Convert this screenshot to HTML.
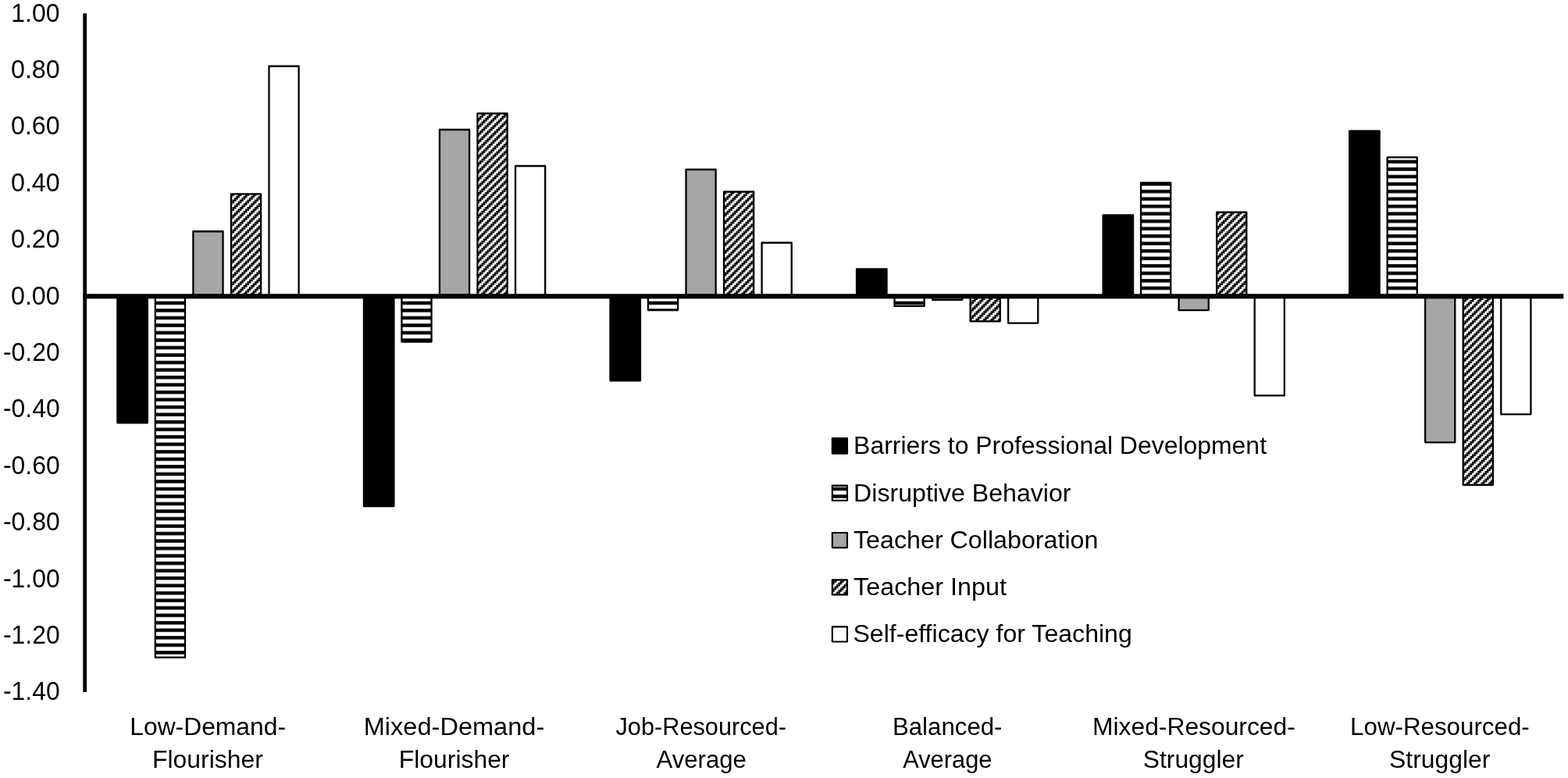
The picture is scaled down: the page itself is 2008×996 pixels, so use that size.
<!DOCTYPE html>
<html lang="en"><head><meta charset="utf-8"><title>Teacher profiles bar chart</title>
<style>html,body{margin:0;padding:0;background:#fff;}body{width:2008px;height:996px;overflow:hidden;}svg{display:block;}text{font-family:"Liberation Sans",sans-serif;fill:#000;}</style>
</head><body>
<svg width="2008" height="996" viewBox="0 0 2008 996">
<defs>
<pattern id="hs" patternUnits="userSpaceOnUse" x="0" y="0" width="9.520" height="9.520"><rect x="0" y="0" width="9.520" height="9.520" fill="#fff"/><rect x="0" y="4.940" width="9.520" height="4.400" fill="#000"/></pattern>
<pattern id="dg" patternUnits="userSpaceOnUse" x="0" y="-1.5" width="9.520" height="9.520"><rect x="0" y="0" width="9.520" height="9.520" fill="#fff"/><g fill="#000"><rect x="-2.440" y="-2.440" width="2.500" height="2.500"/><rect x="4.700" y="-2.440" width="2.500" height="2.500"/><rect x="7.080" y="-2.440" width="2.500" height="2.500"/><rect x="2.320" y="-0.060" width="2.500" height="2.500"/><rect x="4.700" y="-0.060" width="2.500" height="2.500"/><rect x="-0.060" y="2.320" width="2.500" height="2.500"/><rect x="2.320" y="2.320" width="2.500" height="2.500"/><rect x="9.460" y="2.320" width="2.500" height="2.500"/><rect x="-2.440" y="4.700" width="2.500" height="2.500"/><rect x="-0.060" y="4.700" width="2.500" height="2.500"/><rect x="7.080" y="4.700" width="2.500" height="2.500"/><rect x="9.460" y="4.700" width="2.500" height="2.500"/><rect x="-2.440" y="7.080" width="2.500" height="2.500"/><rect x="4.700" y="7.080" width="2.500" height="2.500"/><rect x="7.080" y="7.080" width="2.500" height="2.500"/><rect x="2.320" y="9.460" width="2.500" height="2.500"/><rect x="4.700" y="9.460" width="2.500" height="2.500"/></g></pattern>
</defs>
<rect x="0" y="0" width="2008" height="996" fill="#fff"/>
<rect x="150.41" y="380.30" width="38.45" height="161.00" fill="#000" stroke="#000" stroke-width="2.30" stroke-linejoin="round"/>
<rect x="198.85" y="380.30" width="38.15" height="461.35" fill="url(#hs)" stroke="#000" stroke-width="2.30" stroke-linejoin="round"/>
<rect x="247.40" y="296.25" width="38.15" height="81.75" fill="#a6a6a6" stroke="#000" stroke-width="2.30" stroke-linejoin="round"/>
<rect x="295.94" y="248.30" width="38.15" height="129.70" fill="url(#dg)" stroke="#000" stroke-width="2.30" stroke-linejoin="round"/>
<rect x="344.49" y="84.75" width="38.15" height="293.25" fill="#fff" stroke="#000" stroke-width="2.30" stroke-linejoin="round"/>
<rect x="465.95" y="380.30" width="38.45" height="267.75" fill="#000" stroke="#000" stroke-width="2.30" stroke-linejoin="round"/>
<rect x="514.40" y="380.30" width="38.15" height="57.25" fill="url(#hs)" stroke="#000" stroke-width="2.30" stroke-linejoin="round"/>
<rect x="562.95" y="166.00" width="38.15" height="212.00" fill="#a6a6a6" stroke="#000" stroke-width="2.30" stroke-linejoin="round"/>
<rect x="611.49" y="145.25" width="38.15" height="232.75" fill="url(#dg)" stroke="#000" stroke-width="2.30" stroke-linejoin="round"/>
<rect x="660.04" y="212.50" width="38.15" height="165.50" fill="#fff" stroke="#000" stroke-width="2.30" stroke-linejoin="round"/>
<rect x="781.50" y="380.30" width="38.45" height="107.00" fill="#000" stroke="#000" stroke-width="2.30" stroke-linejoin="round"/>
<rect x="829.95" y="380.30" width="38.15" height="16.75" fill="url(#hs)" stroke="#000" stroke-width="2.30" stroke-linejoin="round"/>
<rect x="878.50" y="217.00" width="38.15" height="161.00" fill="#a6a6a6" stroke="#000" stroke-width="2.30" stroke-linejoin="round"/>
<rect x="927.04" y="245.50" width="38.15" height="132.50" fill="url(#dg)" stroke="#000" stroke-width="2.30" stroke-linejoin="round"/>
<rect x="975.59" y="310.75" width="38.15" height="67.25" fill="#fff" stroke="#000" stroke-width="2.30" stroke-linejoin="round"/>
<rect x="1097.06" y="344.50" width="38.45" height="33.50" fill="#000" stroke="#000" stroke-width="2.30" stroke-linejoin="round"/>
<rect x="1145.50" y="380.30" width="38.15" height="11.50" fill="url(#hs)" stroke="#000" stroke-width="2.30" stroke-linejoin="round"/>
<rect x="1194.05" y="380.30" width="38.15" height="3.50" fill="#a6a6a6" stroke="#000" stroke-width="2.30" stroke-linejoin="round"/>
<rect x="1242.59" y="380.30" width="38.15" height="31.00" fill="url(#dg)" stroke="#000" stroke-width="2.30" stroke-linejoin="round"/>
<rect x="1291.14" y="380.30" width="38.15" height="33.25" fill="#fff" stroke="#000" stroke-width="2.30" stroke-linejoin="round"/>
<rect x="1412.61" y="275.50" width="38.45" height="102.50" fill="#000" stroke="#000" stroke-width="2.30" stroke-linejoin="round"/>
<rect x="1461.05" y="234.00" width="38.15" height="144.00" fill="url(#hs)" stroke="#000" stroke-width="2.30" stroke-linejoin="round"/>
<rect x="1509.60" y="380.30" width="38.15" height="16.75" fill="#a6a6a6" stroke="#000" stroke-width="2.30" stroke-linejoin="round"/>
<rect x="1558.14" y="271.75" width="38.15" height="106.25" fill="url(#dg)" stroke="#000" stroke-width="2.30" stroke-linejoin="round"/>
<rect x="1606.69" y="380.30" width="38.15" height="126.00" fill="#fff" stroke="#000" stroke-width="2.30" stroke-linejoin="round"/>
<rect x="1728.15" y="167.75" width="38.45" height="210.25" fill="#000" stroke="#000" stroke-width="2.30" stroke-linejoin="round"/>
<rect x="1776.60" y="201.40" width="38.15" height="176.60" fill="url(#hs)" stroke="#000" stroke-width="2.30" stroke-linejoin="round"/>
<rect x="1825.15" y="380.30" width="38.15" height="186.00" fill="#a6a6a6" stroke="#000" stroke-width="2.30" stroke-linejoin="round"/>
<rect x="1873.69" y="380.30" width="38.15" height="240.50" fill="url(#dg)" stroke="#000" stroke-width="2.30" stroke-linejoin="round"/>
<rect x="1922.24" y="380.30" width="38.15" height="150.00" fill="#fff" stroke="#000" stroke-width="2.30" stroke-linejoin="round"/>
<rect x="106.30" y="17.10" width="4.80" height="868.90" fill="#000"/>
<rect x="106.30" y="376.25" width="1896.00" height="6.15" fill="#000"/>
<rect x="1065.85" y="561.20" width="19.10" height="19.40" fill="#000" stroke="#000" stroke-width="2.20" stroke-linejoin="round"/>
<rect x="1065.85" y="621.60" width="19.10" height="19.15" fill="url(#hs)" stroke="#000" stroke-width="2.20" stroke-linejoin="round"/>
<rect x="1065.85" y="682.00" width="19.10" height="19.10" fill="#a6a6a6" stroke="#000" stroke-width="2.20" stroke-linejoin="round"/>
<rect x="1065.85" y="742.30" width="19.10" height="19.10" fill="url(#dg)" stroke="#000" stroke-width="2.20" stroke-linejoin="round"/>
<rect x="1065.85" y="802.40" width="19.10" height="19.10" fill="#fff" stroke="#000" stroke-width="2.20" stroke-linejoin="round"/>
<text id="t0" x="14.28" y="27.60" font-size="32.70" textLength="62.26" lengthAdjust="spacingAndGlyphs">1.00</text>
<text id="t1" x="13.97" y="100.00" font-size="32.70" textLength="62.75" lengthAdjust="spacingAndGlyphs">0.80</text>
<text id="t2" x="13.97" y="172.40" font-size="32.70" textLength="62.75" lengthAdjust="spacingAndGlyphs">0.60</text>
<text id="t3" x="13.97" y="244.80" font-size="32.70" textLength="62.75" lengthAdjust="spacingAndGlyphs">0.40</text>
<text id="t4" x="13.97" y="317.20" font-size="32.70" textLength="62.75" lengthAdjust="spacingAndGlyphs">0.20</text>
<text id="t5" x="13.97" y="389.60" font-size="32.70" textLength="62.75" lengthAdjust="spacingAndGlyphs">0.00</text>
<text id="t6" x="4.00" y="462.00" font-size="32.70" textLength="72.63" lengthAdjust="spacingAndGlyphs">-0.20</text>
<text id="t7" x="4.00" y="534.40" font-size="32.70" textLength="72.63" lengthAdjust="spacingAndGlyphs">-0.40</text>
<text id="t8" x="4.00" y="606.80" font-size="32.70" textLength="72.63" lengthAdjust="spacingAndGlyphs">-0.60</text>
<text id="t9" x="4.00" y="679.20" font-size="32.70" textLength="72.63" lengthAdjust="spacingAndGlyphs">-0.80</text>
<text id="t10" x="4.00" y="751.60" font-size="32.70" textLength="72.63" lengthAdjust="spacingAndGlyphs">-1.00</text>
<text id="t11" x="4.00" y="824.00" font-size="32.70" textLength="72.63" lengthAdjust="spacingAndGlyphs">-1.20</text>
<text id="t12" x="4.00" y="896.40" font-size="32.70" textLength="72.63" lengthAdjust="spacingAndGlyphs">-1.40</text>
<text id="c0a" x="166.27" y="940.70" font-size="31.00" textLength="199.77" lengthAdjust="spacingAndGlyphs">Low-Demand-</text>
<text id="c0b" x="195.02" y="983.40" font-size="31.00" textLength="141.81" lengthAdjust="spacingAndGlyphs">Flourisher</text>
<text id="c1a" x="465.72" y="940.70" font-size="31.00" textLength="231.52" lengthAdjust="spacingAndGlyphs">Mixed-Demand-</text>
<text id="c1b" x="510.82" y="983.40" font-size="31.00" textLength="141.67" lengthAdjust="spacingAndGlyphs">Flourisher</text>
<text id="c2a" x="788.44" y="940.70" font-size="31.00" textLength="218.57" lengthAdjust="spacingAndGlyphs">Job-Resourced-</text>
<text id="c2b" x="840.52" y="983.40" font-size="31.00" textLength="115.41" lengthAdjust="spacingAndGlyphs">Average</text>
<text id="c3a" x="1142.93" y="940.70" font-size="31.00" textLength="140.60" lengthAdjust="spacingAndGlyphs">Balanced-</text>
<text id="c3b" x="1156.21" y="983.40" font-size="31.00" textLength="114.25" lengthAdjust="spacingAndGlyphs">Average</text>
<text id="c4a" x="1399.04" y="940.70" font-size="31.00" textLength="259.77" lengthAdjust="spacingAndGlyphs">Mixed-Resourced-</text>
<text id="c4b" x="1463.75" y="983.40" font-size="31.00" textLength="129.10" lengthAdjust="spacingAndGlyphs">Struggler</text>
<text id="c5a" x="1729.11" y="940.70" font-size="31.00" textLength="229.65" lengthAdjust="spacingAndGlyphs">Low-Resourced-</text>
<text id="c5b" x="1779.12" y="983.40" font-size="31.00" textLength="129.15" lengthAdjust="spacingAndGlyphs">Struggler</text>
<text id="l0" x="1093.13" y="581.10" font-size="31.00" textLength="528.88" lengthAdjust="spacingAndGlyphs">Barriers to Professional Development</text>
<text id="l1" x="1093.12" y="641.60" font-size="31.00" textLength="278.38" lengthAdjust="spacingAndGlyphs">Disruptive Behavior</text>
<text id="l2" x="1093.02" y="701.90" font-size="31.00" textLength="313.41" lengthAdjust="spacingAndGlyphs">Teacher Collaboration</text>
<text id="l3" x="1093.02" y="762.00" font-size="31.00" textLength="195.98" lengthAdjust="spacingAndGlyphs">Teacher Input</text>
<text id="l4" x="1092.43" y="822.20" font-size="31.00" textLength="357.40" lengthAdjust="spacingAndGlyphs">Self-efficacy for Teaching</text>
</svg>
</body></html>
